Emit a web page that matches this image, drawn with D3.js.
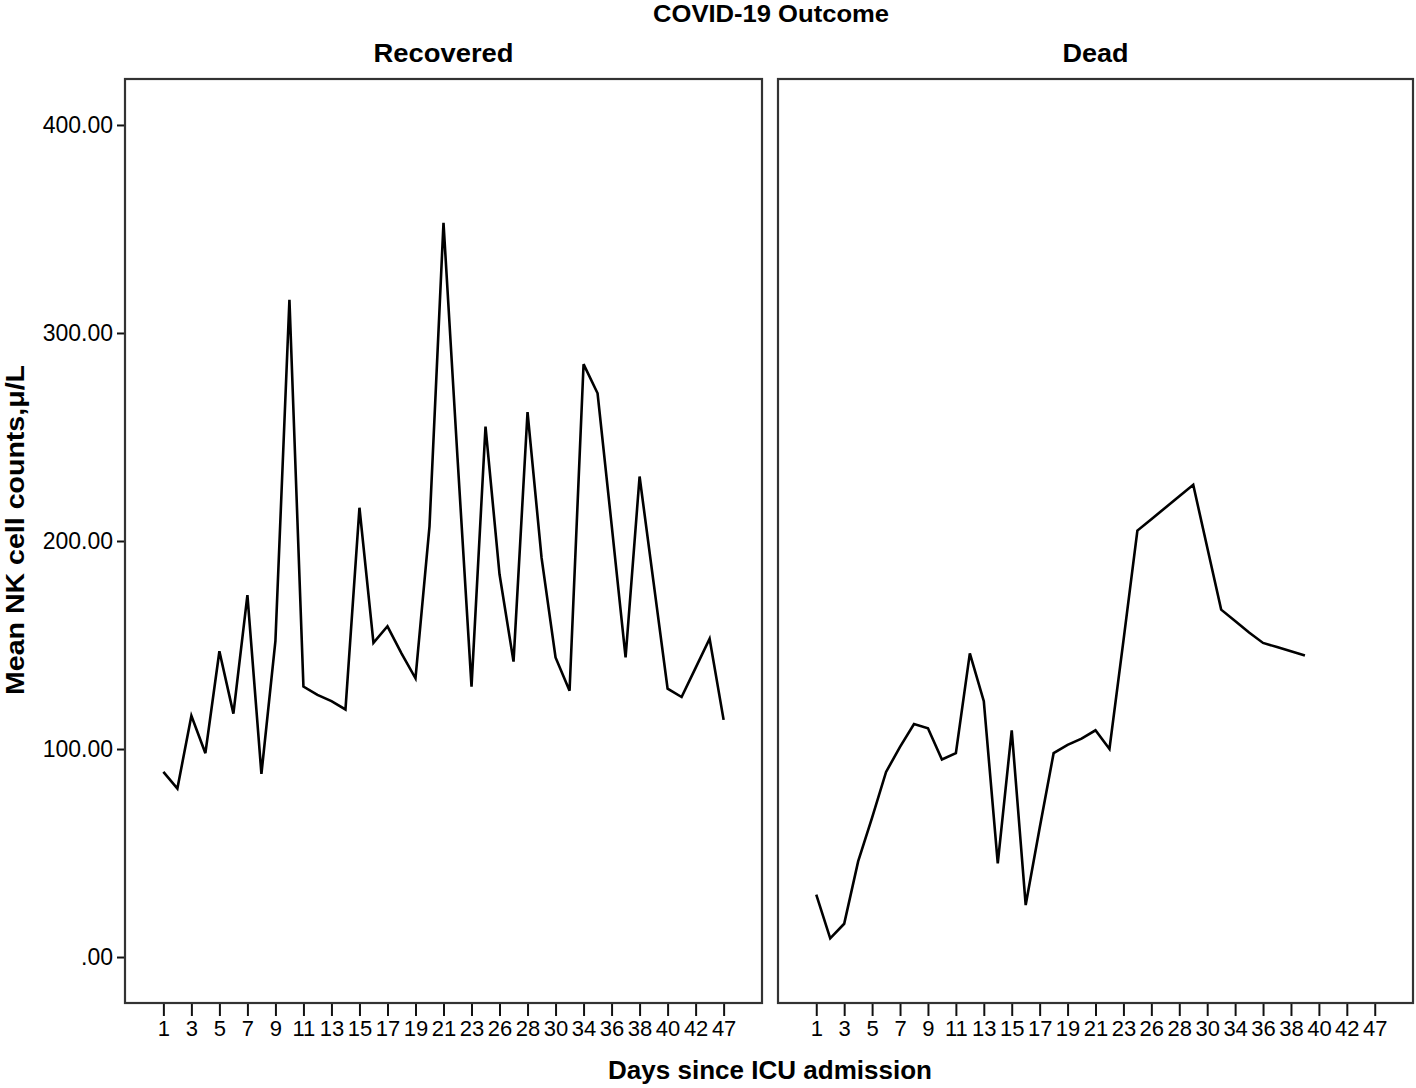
<!DOCTYPE html>
<html>
<head>
<meta charset="utf-8">
<script src="https://cdn.jsdelivr.net/npm/d3@7"></script>
<style>
  html, body { margin: 0; padding: 0; background: #fff; }
  svg { display: block; }
  text { font-family: "Liberation Sans", Arial, sans-serif; fill: #000; }
</style>
</head>
<body>
<svg id="chart" width="1416" height="1088"></svg>
<script>
// Categories: days since ICU admission (shared by both panels)
const days = [1,2,3,4,5,6,7,8,9,10,11,12,13,14,15,16,17,18,19,20,21,22,23,24,26,27,28,29,30,32,34,35,36,37,38,39,40,41,42,44,47];
// Tick labels shown (every other category)
const tickDays = [1,3,5,7,9,11,13,15,17,19,21,23,26,28,30,34,36,38,40,42,47];
// Mean NK cell counts, Recovered
const recovered = [89,81,116,98,147,117,174,88,152,316,130,126,123,119,216,151,159,146,134,207,353,240,130,255,184,142,262,192,144,128,285,271,208,144,231,180,129,125,139,153,114];
// Mean NK cell counts, Dead (data up to day 39)
const dead = [30,9,16,46,67,89,101,112,110,95,98,146,123,45,109,25,62,98,102,105,109,100,152,205,210.5,216,221.5,227,197,167,161.5,156,151,149,147,145];
const yTicks = [0,100,200,300,400];
const panelNames = ["Recovered","Dead"];
const seriesList = [recovered, dead];

const svg = d3.select("#chart");
const plotTop = 79, plotBottom = 1003;
const panels = [{x0:125, x1:762, titleLen:140}, {x0:778, x1:1413, titleLen:66}];

const y = d3.scaleLinear().domain([-22.1, 422.1]).range([plotBottom, plotTop]);
const fmt = v => v === 0 ? ".00" : v.toFixed(2);

panels.forEach((p, k) => {
  const x = d3.scalePoint().domain(days).range([p.x0, p.x1]).padding(2.74);
  const g = svg.append("g");

  const xAxis = d3.axisBottom(x).tickValues(tickDays).tickSize(13).tickSizeOuter(0).tickPadding(4);
  const gx = g.append("g").attr("transform", `translate(0,${plotBottom})`).call(xAxis);
  gx.select(".domain").remove();
  gx.selectAll(".tick line").attr("stroke", "#111").attr("stroke-width", 2);
  gx.selectAll(".tick text").style("font-size", "22px").attr("fill", "#000");

  if (k === 0) {
    const yAxis = d3.axisLeft(y).tickValues(yTicks).tickFormat(fmt).tickSize(8).tickSizeOuter(0).tickPadding(4);
    const gy = g.append("g").attr("transform", `translate(${p.x0},0)`).call(yAxis);
    gy.select(".domain").remove();
    gy.selectAll(".tick line").attr("stroke", "#111").attr("stroke-width", 2);
    gy.selectAll(".tick text").style("font-size", "23px").attr("fill", "#000");
  }

  g.append("rect").attr("x", p.x0).attr("y", plotTop).attr("width", p.x1 - p.x0).attr("height", plotBottom - plotTop)
    .attr("fill", "none").attr("stroke", "#333").attr("stroke-width", 2.2);

  const data = seriesList[k].map((v, i) => ({d: days[i], v}));
  g.append("path").datum(data)
    .attr("fill", "none").attr("stroke", "#000").attr("stroke-width", 2.6).attr("stroke-linejoin", "miter")
    .attr("d", d3.line().x(d => x(d.d)).y(d => y(d.v)));

  g.append("text").attr("x", (p.x0 + p.x1) / 2).attr("y", 62).attr("text-anchor", "middle")
    .attr("textLength", p.titleLen).attr("lengthAdjust", "spacingAndGlyphs")
    .style("font-size", "26px").style("font-weight", "bold").text(panelNames[k]);
});

svg.append("text").attr("x", 771).attr("y", 22).attr("text-anchor", "middle")
  .attr("textLength", 236).attr("lengthAdjust", "spacingAndGlyphs")
  .style("font-size", "24px").style("font-weight", "bold").text("COVID-19 Outcome");

svg.append("text").attr("transform", "translate(24,530) rotate(-90)").attr("text-anchor", "middle")
  .attr("textLength", 330).attr("lengthAdjust", "spacingAndGlyphs")
  .style("font-size", "25px").style("font-weight", "bold").text("Mean NK cell counts,μ/L");

svg.append("text").attr("x", 770).attr("y", 1079).attr("text-anchor", "middle")
  .attr("textLength", 324).attr("lengthAdjust", "spacingAndGlyphs")
  .style("font-size", "26px").style("font-weight", "bold").text("Days since ICU admission");
</script>
</body>
</html>
